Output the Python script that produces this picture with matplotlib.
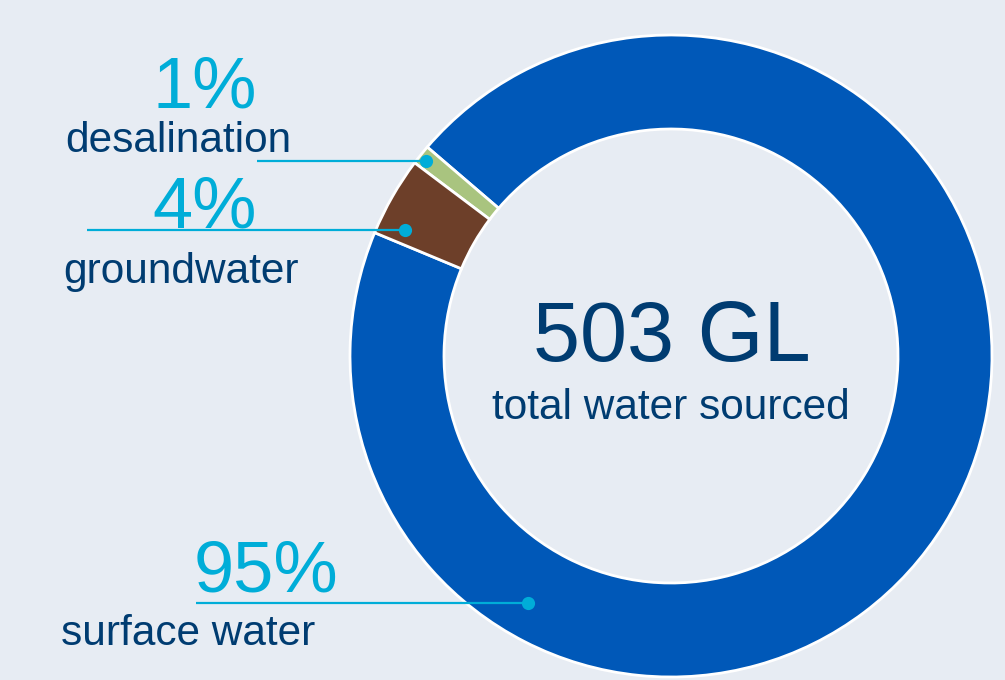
import matplotlib.pyplot as plt

# === Dati ===
sources = ["surface water", "desalination", "groundwater"]
shares = [95, 1, 4]
share_labels = ["95%", "1%", "4%"]
total_label = "503 GL"
total_caption = "total water sourced"

# === Stile ===
bg = "#e7ecf3"
colors = ["#0058b8", "#a9c47f", "#6d3f29"]
cyan = "#00add8"
navy = "#003c71"
font = "Liberation Sans"

W, H = 1005, 680
cx, cy = 671, H - 356
R_out, ring = 321, 94

fig = plt.figure(figsize=(W / 100, H / 100), dpi=100)
fig.patch.set_facecolor(bg)
ax = fig.add_axes([0, 0, 1, 1])
ax.set_facecolor(bg)

wedges, _ = ax.pie(shares, colors=colors, radius=R_out, center=(cx, cy),
                   startangle=157.4, counterclock=True,
                   wedgeprops=dict(width=ring, edgecolor="white", linewidth=2))
ax.set_xlim(0, W)
ax.set_ylim(0, H)
ax.set_aspect("equal")
ax.axis("off")

# testo centrale
ax.text(cx + 1, H - 361, total_label, ha="center", va="baseline",
        fontsize=61, color=navy, family=font)
ax.text(cx, H - 419, total_caption, ha="center", va="baseline",
        fontsize=30.5, color=navy, family=font)

# === Etichette con linee guida ===
# (angolo del punto, raggio del punto, inizio linea x, pos. percentuale, pos. nome)
callouts = {
    "surface water": (240, 285, 196, (194, 592), (61, 645)),
    "desalination": (141.5, 313, 257, (152, 108), (65, 152)),
    "groundwater": (154.7, 294, 87, (152, 228), (63, 283)),
}

import numpy as np
for name, pct in zip(sources, share_labels):
    ang, r, x0, (px, py), (nx, ny) = callouts[name]
    dx = cx + r * np.cos(np.radians(ang))
    dy = cy + r * np.sin(np.radians(ang))
    ax.plot([x0, dx], [dy, dy], color=cyan, lw=1.6, solid_capstyle="butt")
    ax.plot(dx, dy, "o", color=cyan, ms=9.5, mec="none")
    ax.text(px, H - py, pct, ha="left", va="baseline", fontsize=52,
            color=cyan, family=font)
    ax.text(nx, H - ny, name, ha="left", va="baseline", fontsize=30.5,
            color=navy, family=font)

fig.savefig("out.png", dpi=100, facecolor=bg)
